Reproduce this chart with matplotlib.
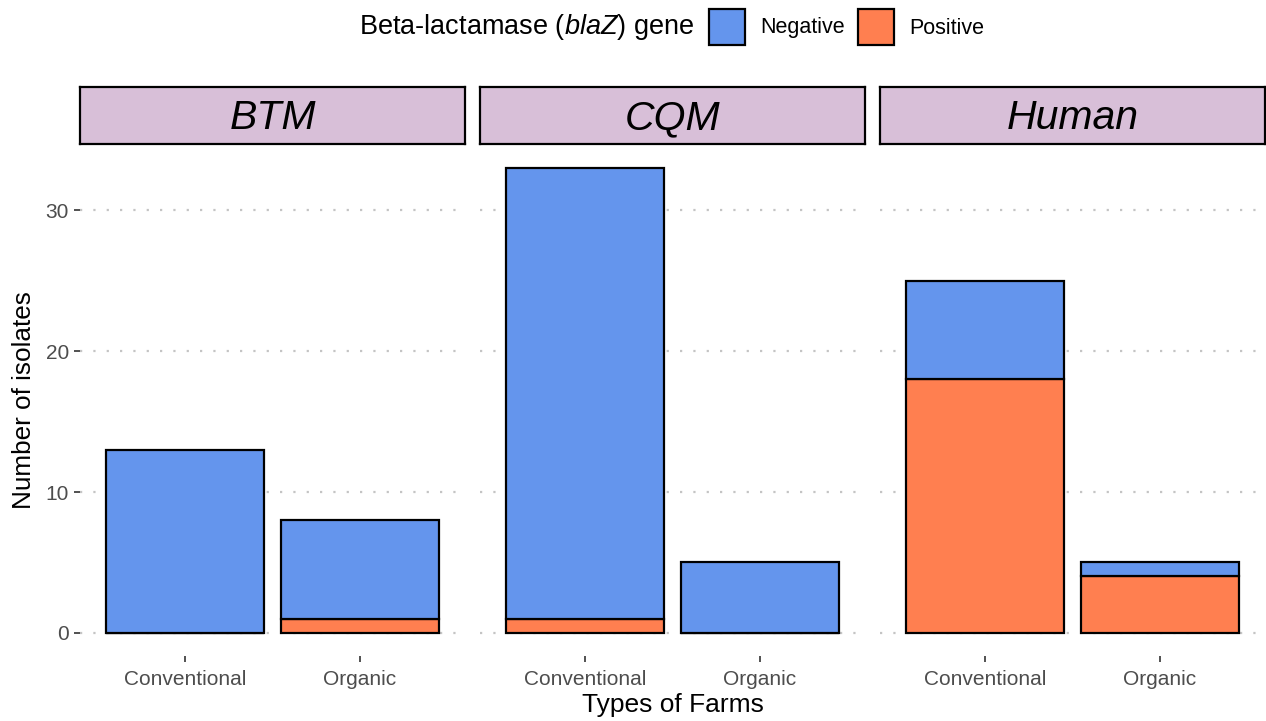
import matplotlib
matplotlib.use("Agg")
import matplotlib.pyplot as plt
from matplotlib.patches import Rectangle
import numpy as np

plt.rcParams['font.family'] = ['Liberation Sans', 'DejaVu Sans']
plt.rcParams['mathtext.fontset'] = 'custom'
plt.rcParams['mathtext.rm'] = 'Liberation Sans'
plt.rcParams['mathtext.it'] = 'Liberation Sans:italic'

# ---- data ----
panels = ["BTM", "CQM", "Human"]
farm_types = ["Conventional", "Organic"]
positive = {"BTM": [0, 1], "CQM": [1, 0], "Human": [18, 4]}
negative = {"BTM": [13, 7], "CQM": [32, 5], "Human": [7, 1]}
legend_labels = ["Negative", "Positive"]
colors = {"Negative": "#6495ED", "Positive": "#FF7F50"}
yticks = [0, 10, 20, 30]

W, H = 1266, 721
fig = plt.figure(figsize=(W / 100, H / 100), dpi=100)

def fx(px):
    return px / W

def fy(py):
    return 1 - py / H

panel_left = [80, 480, 880]
panel_w = 385
panel_top, panel_bot = 145, 656
strip_top, strip_bot = 87, 144

ymax = max(p + n for k in panels for p, n in zip(positive[k], negative[k]))
ylo, yhi = -0.05 * ymax, ymax * 1.05

for i, name in enumerate(panels):
    ax = fig.add_axes([fx(panel_left[i]), fy(panel_bot), fx(panel_w), (panel_bot - panel_top) / H])
    x = np.arange(1, len(farm_types) + 1)
    pos = np.array(positive[name])
    neg = np.array(negative[name])
    for yv in yticks:
        ax.axhline(yv, color="#C4C4C4", lw=1.6, ls=(0, (1, 5)), zorder=0)
    ax.bar(x, pos, width=0.9, color=colors["Positive"], edgecolor="black", lw=1.6, zorder=2)
    ax.bar(x, neg, bottom=pos, width=0.9, color=colors["Negative"], edgecolor="black", lw=1.6, zorder=2)
    ax.set_xlim(0.4, 2.6)
    ax.set_ylim(ylo, yhi)
    ax.set_xticks(x)
    ax.set_xticklabels(farm_types, fontsize=15, color="#4D4D4D")
    ax.tick_params(axis="x", length=4, width=1.2, color="#333333", pad=6)
    for s in ax.spines.values():
        s.set_visible(False)
    if i == 0:
        ax.set_yticks(yticks)
        ax.set_yticklabels([str(v) for v in yticks], fontsize=15, color="#4D4D4D")
        ax.tick_params(axis="y", length=4, width=1.2, color="#333333", pad=4)
        ax.set_ylabel("Number of isolates", fontsize=18.8, labelpad=7)
    else:
        ax.set_yticks(yticks)
        ax.tick_params(axis="y", length=0, labelleft=False)
    # strip
    sax = fig.add_axes([fx(panel_left[i]), fy(strip_bot), fx(panel_w), (strip_bot - strip_top) / H])
    sax.set_facecolor("#D8BFD8")
    sax.set_xticks([]); sax.set_yticks([])
    for s in sax.spines.values():
        s.set_color("black"); s.set_linewidth(1.6)
    sax.text(0.5, 0.45, name, transform=sax.transAxes, ha="center", va="center",
             fontsize=29.5, style="italic")

fig.text(fx(673), fy(705), "Types of Farms", ha="center", va="center", fontsize=19)

# legend
fig.text(fx(694), fy(27), r"Beta-lactamase ($\mathit{blaZ}$) gene", ha="right", va="center", fontsize=19.5)
box_x = [709, 858]
text_x = [760, 909]
for lab, bx, tx in zip(legend_labels, box_x, text_x):
    fig.patches.append(Rectangle((fx(bx), fy(45)), fx(36), 36 / H, transform=fig.transFigure,
                                 facecolor=colors[lab], edgecolor="black", lw=1.6))
    fig.text(fx(tx), fy(28), lab, ha="left", va="center", fontsize=15.5)

fig.savefig("out.png", dpi=100)
